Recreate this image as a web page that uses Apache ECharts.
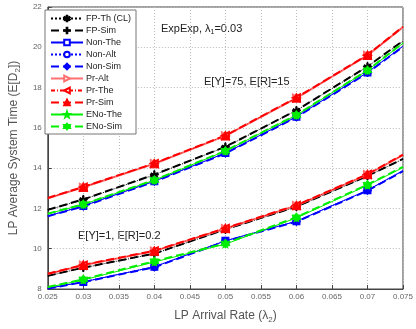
<!DOCTYPE html>
<html><head><meta charset="utf-8">
<script src="https://cdn.jsdelivr.net/npm/echarts@6/dist/echarts.min.js"></script>
<style>html,body{margin:0;padding:0;background:#fff}#c{width:416px;height:329px}</style>
</head><body><div id="c"></div>
<script>
var xValues = [0.025, 0.03, 0.04, 0.05, 0.06, 0.07, 0.075];
var xTicks = [0.025, 0.03, 0.035, 0.04, 0.045, 0.05, 0.055, 0.06, 0.065, 0.07, 0.075];
var yTicks = [8, 10, 12, 14, 16, 18, 20, 22];

var fpThUpper  = [11.92, 12.44, 13.67, 15.05, 16.86, 19.04, 20.30];
var fpThLower  = [8.65, 9.05, 9.75, 10.95, 12.08, 13.60, 14.45];
var fpSimUpper = [11.93, 12.45, 13.68, 15.06, 16.87, 19.05, 20.32];
var fpSimLower = [8.66, 9.06, 9.76, 10.96, 12.09, 13.61, 14.46];

var nonThUpper  = [11.62, 12.12, 13.35, 14.75, 16.55, 18.75, 20.05];
var nonThLower  = [8.03, 8.35, 9.10, 10.39, 11.36, 12.90, 13.87];
var nonAltUpper = [11.63, 12.13, 13.36, 14.76, 16.56, 18.76, 20.06];
var nonAltLower = [8.04, 8.36, 9.11, 10.40, 11.37, 12.91, 13.88];
var nonSimUpper = [11.61, 12.10, 13.33, 14.73, 16.53, 18.73, 20.03];
var nonSimLower = [8.02, 8.34, 9.08, 10.37, 11.34, 12.88, 13.85];

var prAltUpper = [12.50, 13.05, 14.22, 15.60, 17.48, 19.60, 21.00];
var prAltLower = [8.74, 9.18, 9.88, 11.00, 12.14, 13.68, 14.65];
var prThUpper  = [12.51, 13.06, 14.23, 15.61, 17.49, 19.61, 21.01];
var prThLower  = [8.75, 9.19, 9.89, 11.01, 12.15, 13.69, 14.66];
var prSimUpper = [12.52, 13.07, 14.24, 15.62, 17.50, 19.62, 21.02];
var prSimLower = [8.76, 9.20, 9.90, 11.02, 12.16, 13.70, 14.67];

var enoThUpper  = [11.73, 12.20, 13.40, 14.85, 16.63, 18.85, 20.20];
var enoThLower  = [8.08, 8.45, 9.34, 10.23, 11.53, 13.15, 14.03];
var enoSimUpper = [11.74, 12.21, 13.41, 14.86, 16.64, 18.86, 20.21];
var enoSimLower = [8.10, 8.48, 9.38, 10.26, 11.56, 13.18, 14.06];

var STAR = 'path://M0,-10 L2.35,-3.24 L9.51,-3.09 L3.8,1.24 L5.88,8.09 L0,4 L-5.88,8.09 L-3.8,1.24 L-9.51,-3.09 L-2.35,-3.24Z';
var HEX = 'path://M0,-10 L2.9,-5 L8.66,-5 L5.8,0 L8.66,5 L2.9,5 L0,10 L-2.9,5 L-8.66,5 L-5.8,0 L-8.66,-5 L-2.9,-5Z';
var PLUS = 'path://M-1.2,-10H1.2V-1.2H10V1.2H1.2V10H-1.2V1.2H-10V-1.2H-1.2Z';
var AST = 'path://M-1,-10H1V-1.7L7.2,-5.6L8.2,-3.9L2,0L8.2,3.9L7.2,5.6L1,1.7V10H-1V1.7L-7.2,5.6L-8.2,3.9L-2,0L-8.2,-3.9L-7.2,-5.6L-1,-1.7Z';

function pts(arr) {
  return arr.map(function (v, i) {
    var d = { value: [xValues[i], v] };
    if (i === 0 || i === arr.length - 1) d.symbol = 'none';
    return d;
  });
}
function mk(name, upper, lower, color, width, type, symbol, size, rot) {
  return {
    name: name, type: 'line',
    data: pts(upper).concat([{ value: ['-', '-'], symbol: 'none' }]).concat(pts(lower)),
    connectNulls: false,
    symbol: symbol, symbolSize: size, symbolRotate: rot || 0,
    showAllSymbol: true,
    clip: true,
    lineStyle: { color: color, width: width, type: type },
    itemStyle: { color: color, borderColor: color, borderWidth: 1 },
    emphasis: { disabled: true },
    animation: false
  };
}

var series = [
  mk('FP-Th (CL)', fpThUpper, fpThLower, '#000', 1, 'dotted', AST, 7),
  mk('FP-Sim', fpSimUpper, fpSimLower, '#000', 2, 'dashed', PLUS, 8),
  mk('Non-The', nonThUpper, nonThLower, '#0000ff', 1, 'solid', 'emptyRect', 6),
  mk('Non-Alt', nonAltUpper, nonAltLower, '#0000ff', 1, 'dotted', 'emptyCircle', 6),
  mk('Non-Sim', nonSimUpper, nonSimLower, '#0000ff', 2, 'dashed', 'diamond', 8),
  mk('Pr-Alt', prAltUpper, prAltLower, '#ff7070', 2, 'solid', 'emptyTriangle', 7, -90),
  mk('Pr-The', prThUpper, prThLower, '#ff0000', 1, [4, 2, 1, 2], 'emptyTriangle', 7, 90),
  mk('Pr-Sim', prSimUpper, prSimLower, '#ff0000', 2, 'dashed', 'triangle', 9),
  mk('ENo-The', enoThUpper, enoThLower, '#00ee00', 1, 'solid', STAR, 8),
  mk('ENo-Sim', enoSimUpper, enoSimLower, '#00ee00', 2, 'dashed', HEX, 9)
];

var chart = echarts.init(document.getElementById('c'), null, { renderer: 'canvas' });
var gray = '#555';
chart.setOption({
  animation: false,
  grid: { left: 37, right: 12, top: 7, bottom: 33, show: true, borderColor: '#444', borderWidth: 1, backgroundColor: 'transparent' },
  xAxis: {
    type: 'value', min: 0.025, max: 0.075, interval: 0.005,
    name: '{a|LP Arrival Rate (λ}{s|2}{a|)}', nameLocation: 'middle', nameGap: 19,
    nameTextStyle: { rich: { a: { fontSize: 12, color: gray, fontFamily: 'Liberation Sans' }, s: { fontSize: 8, color: gray, verticalAlign: 'bottom', padding: [8, 0, 0, 0], fontFamily: 'Liberation Sans' } } },
    axisLine: { lineStyle: { color: '#444' } },
    axisTick: { inside: true, length: 4, lineStyle: { color: '#444' } },
    axisLabel: { fontSize: 8, color: '#666', margin: 4, fontFamily: 'Liberation Sans', formatter: function (v) { return String(+v.toFixed(3)); } },
    splitLine: { show: true, lineStyle: { color: '#bbb', type: [1, 2], width: 1 } }
  },
  yAxis: {
    type: 'value', min: 8, max: 22, interval: 2,
    name: '{a|LP Average System Time (E[D}{s|2}{a|])}', nameLocation: 'middle', nameGap: 22,
    nameTextStyle: { rich: { a: { fontSize: 12, color: gray, fontFamily: 'Liberation Sans' }, s: { fontSize: 8, color: gray, verticalAlign: 'bottom', padding: [8, 0, 0, 0], fontFamily: 'Liberation Sans' } } },
    axisLine: { show: true, lineStyle: { color: '#444' } },
    axisTick: { show: true, inside: true, length: 4, lineStyle: { color: '#444' } },
    axisLabel: { fontSize: 8, color: '#666', margin: 6, fontFamily: 'Liberation Sans' },
    splitLine: { show: true, lineStyle: { color: '#bbb', type: [1, 2], width: 1 } }
  },
  legend: {
    orient: 'vertical', left: 45, top: 10, itemGap: 3, itemWidth: 32, itemHeight: 7,
    backgroundColor: '#fff', borderColor: '#777', borderWidth: 1, borderRadius: 0, padding: [4, 5, 3, 5],
    textStyle: { fontSize: 9, color: '#222', fontFamily: 'Liberation Sans', padding: [0, 0, 0, -2] },
    selectedMode: false,
    data: series.map(function (s) { return s.name; })
  },
  graphic: [
    { type: 'text', left: 161, top: 23, style: { text: '{a|ExpExp, λ}{s|1}{a|=0.03}', rich: { a: { fontSize: 11, fill: '#222', fontFamily: 'Liberation Sans' }, s: { fontSize: 7, fill: '#222', padding: [7, 0, 0, 0], fontFamily: 'Liberation Sans' } } } },
    { type: 'text', left: 204, top: 76, style: { text: 'E[Y]=75, E[R]=15', fontSize: 11, fill: '#222', fontFamily: 'Liberation Sans' } },
    { type: 'text', left: 78, top: 230, style: { text: 'E[Y]=1, E[R]=0.2', fontSize: 11, fill: '#222', fontFamily: 'Liberation Sans' } }
  ],
  series: series
});
</script></body></html>
